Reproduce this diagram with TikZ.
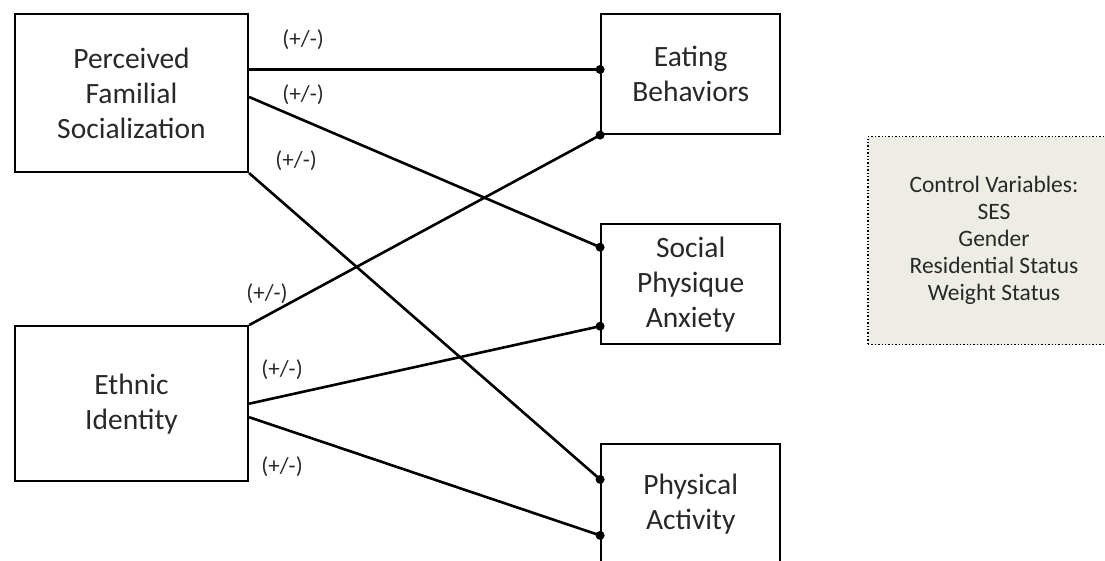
\documentclass[tikz,border=0pt]{standalone}
\usepackage{fontspec}
\setmainfont{Carlito}
\usepackage{tikz}
\usetikzlibrary{positioning}
\definecolor{ctrlfill}{RGB}{238,237,229}
\definecolor{inkgray}{RGB}{40,40,40}
\tikzset{
  construct/.style={draw, line width=2.2pt, align=center, minimum width=233pt, text=inkgray, font=\fontsize{29.5}{35}\selectfont},
  outcome/.style={draw, line width=2.2pt, align=center, minimum width=179pt, minimum height=120pt, text=inkgray, font=\fontsize{29.5}{35}\selectfont},
  covariates/.style={draw, dotted, line width=1.4pt, fill=ctrlfill, align=center, minimum width=252pt, minimum height=208pt, text=inkgray, font=\fontsize{23.5}{27}\selectfont},
  link/.style={line width=2.6pt},
  dot/.style={circle, fill, inner sep=0pt, minimum size=9pt},
  sign/.style={text=inkgray, font=\fontsize{23}{25}\selectfont}
}

\begin{document}
\begin{tikzpicture}[x=1pt, y=1pt]
\useasboundingbox (0,0) rectangle (1105,561);
\node[construct, minimum height=158pt] (familial) at (131.5,468) {Perceived\\Familial\\Socialization};
\node[construct, minimum height=155pt, below=152pt of familial] (ethnic) {Ethnic\\Identity};
\node[outcome, right=351pt of familial.north east, anchor=north west] (eating) {Eating\\Behaviors};
\node[outcome, below=88pt of eating] (anxiety) {Social\\Physique\\Anxiety};
\node[outcome, below=98pt of anxiety] (activity) {Physical\\Activity};
\node[covariates, right=86pt of anxiety.south east, anchor=south west] (control) {Control Variables:\\SES\\Gender\\Residential Status\\Weight Status};

\draw[link] ([yshift=23.5pt]familial.east) -- node[sign, pos=0.154, yshift=30pt] {(+/-)} ([yshift=4.5pt]eating.west) node[dot] {};
\draw[link] ([yshift=-4pt]familial.east) -- node[sign, pos=0.154, yshift=25pt] {(+/-)} ([yshift=37pt]anxiety.west) node[dot] {};
\draw[link] (familial.south east) -- node[sign, pos=0.134, yshift=53pt] {(+/-)} ([yshift=25pt]activity.west) node[dot] {};
\draw[link] (ethnic.north east) -- node[sign, pos=0.051, yshift=22pt] {(+/-)} (eating.south west) node[dot] {};
\draw[link] (ethnic.east) -- node[sign, pos=0.094, yshift=27pt] {(+/-)} ([yshift=-42pt]anxiety.west) node[dot] {};
\draw[link] ([yshift=-13.5pt]ethnic.east) -- node[sign, pos=0.094, yshift=-38pt] {(+/-)} ([yshift=-31pt]activity.west) node[dot] {};
\end{tikzpicture}
\end{document}
